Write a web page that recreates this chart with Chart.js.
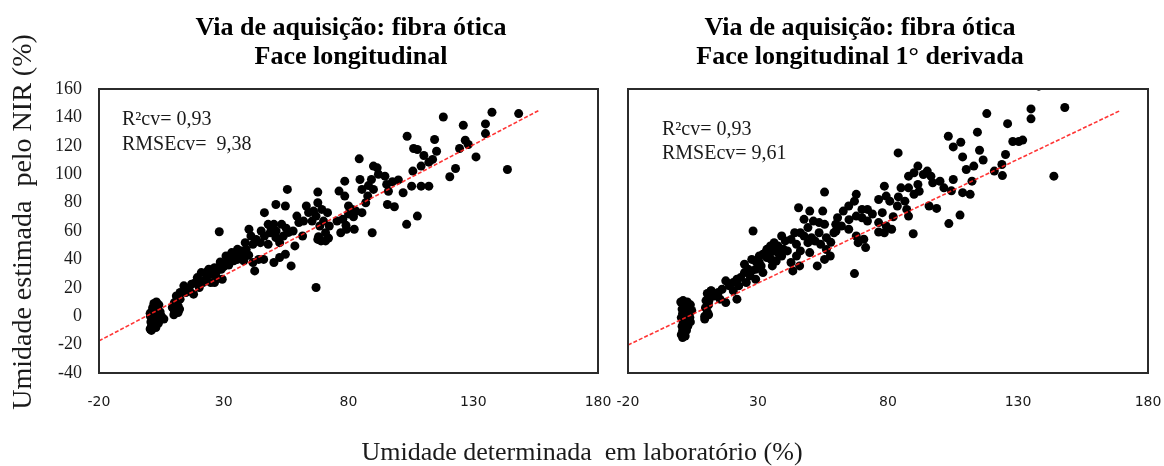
<!DOCTYPE html>
<html>
<head>
<meta charset="utf-8">
<script src="https://cdn.jsdelivr.net/npm/chart.js@4.4.1/dist/chart.umd.min.js"></script>
<style>
  html,body{margin:0;padding:0;background:#fff;}
  #wrap{position:relative;width:1164px;height:466px;overflow:hidden;background:#fff;}
  canvas{position:absolute;top:0;}
  #xtitle{position:absolute;left:0;top:437px;width:1164px;height:30px;line-height:30px;text-align:center;
    font-family:"Liberation Serif",serif;font-size:26px;color:#1a1a1a;white-space:pre;}
</style>
</head>
<body>
<div id="wrap">
  <canvas id="c1" width="700" height="466" style="left:0px"></canvas>
  <canvas id="c2" width="650" height="466" style="left:556px"></canvas>
  <div id="xtitle">Umidade determinada  em laboratório (%)</div>
</div>
<script>
// ---------- DATA ----------
const xTickValues = [-20, 30, 80, 130, 180];
const yTickValues = [-40, -20, 0, 20, 40, 60, 80, 100, 120, 140, 160];

const leftTitle = ['Via de aquisição: fibra ótica', 'Face longitudinal'];
const rightTitle = ['Via de aquisição: fibra ótica', 'Face longitudinal 1° derivada'];
const leftStats = ['R²cv= 0,93', 'RMSEcv=  9,38'];
const rightStats = ['R²cv= 0,93', 'RMSEcv= 9,61'];
const yAxisTitle = 'Umidade estimada  pelo NIR (%)';

// Left panel: lab value (x) vs NIR estimate (y)
const leftLabX = [
  0.5,1.5,2.8,1,2,3.8,0.8,2.5,1.2,2.2,0.6,3,5,1.5,3,1,4.5,2,3.5,1.5,2.5,4,2,3,1,6,0.5,4.2,
  9.4,10.2,11.7,11.7,10.2,11,12.5,12.5,10,12.3,
  14,14.8,16.3,17.1,17.9,18.7,19.4,20.2,21,21.7,23.3,24,24.8,25.6,26.3,26.3,27.1,28.2,28.6,29.4,30.9,32.5,33.2,35.5,35.5,38.6,38.6,40.1,40.9,41.7,41.7,42.4,44.7,46.3,46.3,47.8,47.8,48.6,50.1,50.1,50.9,50.9,52.4,52.4,53.2,53.9,54.7,54.7,55.5,57,57.8,58.5,59.3,60.1,61.6,63.1,65.4,67,67,67.7,67.7,67.7,68.5,69.3,70,70.8,70.8,71.6,72.3,
  22,23,27,30,31,33,34,36,37,39,29,32,34,43,45,49,51,55,56,62,64,66,68,69,72,44,46,38,40,
  75.4,76.2,76.9,77.7,78.5,78.5,79.2,80,81.5,82.3,84.3,84.6,85.4,85.4,86.9,87.7,89.2,89.5,90,90,91.5,94.6,95.3,95.6,97.6,98.4,101.9,103.3,103.5,105.3,105.8,106.1,107.6,107.6,109.1,109.1,110.2,112.2,112.2,113.7,114.5,115.3,118,120.6,122.9,124.5,126,126.8,128,131.1,134.9,134.9,137.5,143.7,148.2,
  80,83,88,92,96,100,79,82
];
const leftNirY = [
  -9,-8,-8,-7,-6,-5,-4,-3,-2,-1,0,0,0,1,2,3,3,4,5,6,7,8,9,10,-10,-2,2,-2,
  6.1,3.8,2.6,7.3,9.6,14.3,12,16.7,1,5,
  21.4,16.7,17.8,22.5,15.5,23.7,27.2,20.2,30.7,23.7,28.4,33.1,23.7,29.6,34.2,23.7,27.2,59.5,38.2,26,42.4,38.9,44.8,47.1,40,51.8,42.4,61.2,56.5,50.6,37.8,31.9,51.8,72.9,56.5,64.7,50.6,58.8,64.7,37.8,78.7,55.3,51.8,41.3,64.7,56.5,77.6,43.6,89.3,35.4,60,49.5,70.5,65.9,56.5,77.6,67,70.5,20.2,87.4,79.9,54.1,63.5,75.2,67,58.8,53,72.9,63.5,
  25,31,31,35,37,40,42,44,46,47,33,36,39,54,60,62,60,62,59,67,73,74,56,53,55,40,40,39,43,
  67,88.1,58.8,68.2,95.1,84.6,61.2,77.6,75.2,61.2,110.8,96.3,89.3,72.9,79.9,84.6,96.3,58.8,105.7,89.3,104.5,98.6,92.8,78.7,94.7,77.1,86.9,64.7,126.7,91.6,102.2,118.1,117.4,70.5,105.7,91.6,113.2,108.5,91.6,110.4,124.4,116.2,140.3,98.2,104,118.1,134.5,123.9,120.9,112.2,135.4,128.6,143.6,103.3,142.7,
  72,74,92,100,88,96,64,70
];

// Right panel
const rightLabX = [
  0.5,1,2,1,1.5,2.5,0.8,2,3,1.2,2.5,0.5,1.8,3,3.8,1,2.2,3.5,0.8,4.5,2,3,1.5,2.8,4,0.3,1.2,4,
  9.5,9.5,11,10.5,9.8,11,10,11.5,10.5,12,
  11.1,11.9,13.3,14.7,15.4,16.2,17.6,17.6,19,20.5,20.5,21.9,21.9,22.6,23.3,24.8,24.8,25.5,26.2,26.9,27.6,27.6,28.1,29.1,29.1,29.1,30.5,30.5,31.2,31.9,31.9,33.4,33.4,33.4,34.8,34.8,35.5,36.2,36.2,37,37.7,39.1,39.1,39.8,40.5,41.3,42.7,42.7,43.4,44.1,44.8,44.8,45.6,46,46.3,46.3,47.7,47.7,49.2,49.2,49.9,49.9,50.6,51.3,52,52.8,53.5,53.5,54.1,54.9,55.6,55.6,55.6,56.3,56.3,57.8,59.2,59.9,60.6,62.1,62.8,64.9,64.9,67.1,67.1,67.8,67.8,67.8,68.5,70,70,70.7,71.4,72.1,72.1,
  76.4,76.4,76.4,77.8,78.6,78.6,79.3,79.3,80.7,81.4,83.6,83.9,85,86.5,87.2,87.9,87.9,87.9,89.7,90,90,91.5,91.5,93.6,95.1,95.8,96.5,97.2,98.7,101.5,103.2,103.4,104.4,105.1,105.1,107.7,108,108.7,108.7,110.1,111.6,112.3,113,114.4,115.2,116.6,118,120.9,123.8,124,125.2,126,128,130.3,131.8,135,135,138,143.8,148,
  82,84,92,100,74,60,58,65,35,38
];
const rightNirY = [
  -13,-15,-14,-10,-12,-10,-7,-8,-7,-4,-5,-1,0,-2,-1,2,3,1,5,4,7,6,9,10,8,10,11,-4,
  -2,0,1,3,6,8,11,13,16,18,
  10.8,17.8,14.3,16.7,12,19,24.9,9.6,21.4,23.7,17.8,26,12,21.4,27.2,30.7,36.6,23.7,33.1,28.4,31.9,40,60,38.9,33.1,26,42.4,37.8,35.4,43.6,30.7,46,41.3,47.1,44.8,49.5,35.4,46,51.8,38.9,49.5,56.5,42.4,47.1,53,46,54.1,37.8,31.9,58.8,50.6,42.4,76.4,35.4,58.8,46,68.2,56.5,62.4,51.8,74,44.8,55.3,67,52.9,35.4,65.9,58.8,50.6,74,87.4,64.7,40,55.3,47,42.4,58.8,64.7,69.3,63.5,74,77.6,61.2,81,30,85.8,70.5,56.5,51.8,75.2,69.3,54.2,48.3,75.2,67,
  82.2,65.9,59.3,72.9,91.6,58.8,84.6,63.5,81,61.2,77.6,115,90.4,81,75.2,98.6,90.4,70.5,58.1,101,85.8,105.7,92.8,99.8,102.2,77.6,98.6,94,75.9,90.4,126.7,65.2,88.3,119.2,96.3,71.2,122.5,112.2,87,103.3,85.8,95.1,105.7,129.6,116.9,110,142.7,102.2,106.8,99,113.9,135.6,123,123,124,146,139,162,98.6,147,
  70,84,88,95,72,60,52,68,40,44
];

// Regression (fitted) lines: endpoints
const leftFitX = [-20, 156.4];
const leftFitY = [-17.4, 145];
const rightFitX = [-20, 169.2];
const rightFitY = [-20.3, 144.7];

// ---------- CHART ----------
const serif = '"Liberation Serif", "Times New Roman", serif';

const panelPlugin = {
  id: 'panel',
  afterDraw(chart, args, opts) {
    const ctx = chart.ctx, a = chart.chartArea;
    ctx.save();
    ctx.strokeStyle = '#2b2b2b';
    ctx.lineWidth = 2;
    ctx.strokeRect(a.left, a.top, a.right - a.left, a.bottom - a.top);
    ctx.fillStyle = '#000';
    ctx.textAlign = 'center';
    ctx.textBaseline = 'middle';
    ctx.font = 'bold 26px ' + serif;
    opts.title.forEach((t, i) => ctx.fillText(t, opts.titleX, opts.titleY[i]));
    ctx.fillStyle = '#1a1a1a';
    ctx.textAlign = 'left';
    ctx.font = '20px ' + serif;
    opts.stats.forEach((t, i) => ctx.fillText(t, a.left + opts.statsDX, a.top + opts.statsDY[i]));
    if (opts.yTitle) {
      ctx.save();
      ctx.translate(opts.yTitleX, opts.yTitleY);
      ctx.rotate(-Math.PI / 2);
      ctx.textAlign = 'center';
      ctx.textBaseline = 'middle';
      ctx.font = '28px ' + serif;
      ctx.fillText(opts.yTitle, 0, 0);
      ctx.restore();
    }
    ctx.restore();
  }
};

function toPoints(xs, ys) { return xs.map((x, i) => ({ x: x, y: ys[i] })); }

function makeChart(id, cfg) {
  return new Chart(document.getElementById(id), {
    type: 'scatter',
    data: {
      datasets: [
        {
          type: 'line',
          data: toPoints(cfg.fitX, cfg.fitY),
          borderColor: 'rgba(255,30,30,0.9)',
          borderWidth: 1.6,
          borderDash: [4, 2],
          pointRadius: 0,
          fill: false,
          clip: 0
        },
        {
          type: 'scatter',
          data: toPoints(cfg.xs, cfg.ys),
          backgroundColor: '#000',
          borderWidth: 0,
          pointRadius: 4.5,
          pointHoverRadius: 4.5,
          clip: 0
        }
      ]
    },
    options: {
      responsive: false,
      animation: false,
      devicePixelRatio: 1,
      events: [],
      layout: { padding: { top: 89, right: cfg.padRight, left: 0, bottom: 0 } },
      plugins: {
        legend: { display: false },
        tooltip: { enabled: false },
        title: { display: false },
        panel: {
          title: cfg.title, titleX: cfg.titleX, titleY: [28, 57],
          stats: cfg.stats, statsDX: cfg.statsDX, statsDY: cfg.statsDY,
          yTitle: cfg.showY ? yAxisTitle : '', yTitleX: 24, yTitleY: 222
        }
      },
      scales: {
        x: {
          type: 'linear', min: -20, max: 180,
          grid: { display: false, drawTicks: false },
          border: { display: false },
          afterBuildTicks(s) { s.ticks = xTickValues.map(v => ({ value: v })); },
          afterFit(s) { s.height = 93; },
          ticks: {
            autoSkip: false, maxRotation: 0, padding: 21,
            font: { family: '"DejaVu Sans", sans-serif', size: 14 },
            color: '#1a1a1a',
            callback: v => String(v)
          }
        },
        y: {
          type: 'linear', min: -40, max: 160,
          grid: { display: false, drawTicks: false },
          border: { display: false },
          afterBuildTicks(s) { s.ticks = yTickValues.map(v => ({ value: v })); },
          afterFit(s) { s.width = cfg.yWidth; },
          ticks: {
            display: cfg.showY, padding: 17,
            font: { family: serif, size: 18 },
            color: '#1a1a1a',
            callback: v => String(v)
          },
          title: { display: false }
        }
      }
    },
    plugins: [panelPlugin]
  });
}

makeChart('c1', {
  xs: leftLabX, ys: leftNirY, fitX: leftFitX, fitY: leftFitY,
  padRight: 102, yWidth: 99, showY: true,
  title: leftTitle, titleX: 351,
  stats: leftStats, statsDX: 23, statsDY: [31, 55.5]
});
makeChart('c2', {
  xs: rightLabX, ys: rightNirY, fitX: rightFitX, fitY: rightFitY,
  padRight: 58, yWidth: 72, showY: false,
  title: rightTitle, titleX: 304,
  stats: rightStats, statsDX: 34, statsDY: [41, 65]
});
</script>
</body>
</html>
